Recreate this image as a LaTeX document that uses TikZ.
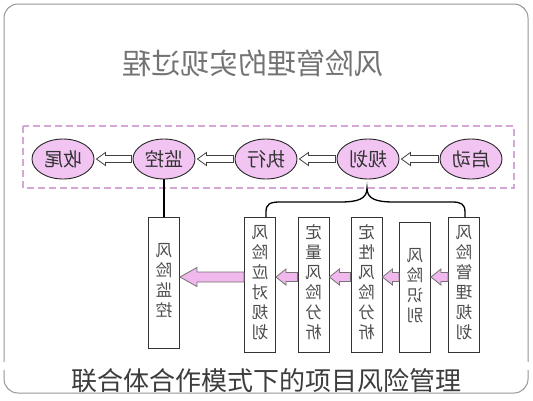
\documentclass[tikz,border=0pt]{standalone}
\usepackage{fontspec}
\newfontfamily\cjk{Noto Sans CJK SC}
\usetikzlibrary{calc,shapes.geometric}
\definecolor{ellfill}{RGB}{242,196,242}
\definecolor{pinkarrow}{RGB}{240,184,236}
\definecolor{dashpink}{RGB}{214,166,214}
\definecolor{framegray}{RGB}{150,150,150}
\definecolor{titlegray}{RGB}{115,115,115}
\definecolor{capgray}{RGB}{60,60,60}
\tikzset{
  phase/.style={ellipse, draw=black!85, line width=0.9pt, fill=ellfill,
    minimum width=62pt, minimum height=40pt, inner sep=0pt,
    font=\cjk\fontsize{19}{19}\selectfont, text=black!80},
  procbox/.style={draw=black!80, line width=0.9pt, fill=white,
    minimum width=31pt, inner sep=0pt,
    font=\cjk\fontsize{16.5}{20}\selectfont, text=black!70},
  hollowarrow/.style={draw=black!75, line width=0.8pt, fill=white},
  pinkblock/.style={draw=black!55, line width=0.8pt, fill=pinkarrow},
  bracestyle/.style={draw=black, line width=1.3pt},
  dashframe/.style={draw=dashpink, line width=1.6pt, dash pattern=on 7pt off 4pt},
}
\newcommand\blockarr[6]{%
  \path[#6] let \p1=#1, \p2=#2 in
    (\x1,{\y1+#3}) -- ({\x2+#5},{\y1+#3}) -- ({\x2+#5},{\y1+#4}) -- (\x2,\y1)
    -- ({\x2+#5},{\y1-#4}) -- ({\x2+#5},{\y1-#3}) -- (\x1,{\y1-#3}) -- cycle;}
\newcommand\vstack[1]{\reflectbox{\begin{tabular}{@{}c@{}}#1\end{tabular}}}
\begin{document}
\begin{tikzpicture}[x=1pt,y=-1pt]
\useasboundingbox (0,0) rectangle (533,400);
\fill[white] (0,0) rectangle (533,400);
% outer frame
\draw[framegray, line width=1pt, rounded corners=14pt] (4,4) rectangle (528,393);
\fill[white] (0,362) rectangle (533,369.5);
% title (mirrored)
\node[font=\cjk\fontsize{29}{29}\selectfont, text=titlegray] (title) at (253,63) {\reflectbox{风险管理的实现过程}};
% dashed group
\draw[dashframe] (23,126) rectangle (514,188);
% phases
\node[phase] (e5) at (63,159) {\reflectbox{收尾}};
\node[phase] (e4) at (164,159) {\reflectbox{监控}};
\node[phase] (e3) at (266,159) {\reflectbox{执行}};
\node[phase] (e2) at (368,159) {\reflectbox{规划}};
\node[phase] (e1) at (471,159) {\reflectbox{启动}};
\blockarr{($(e1.west)+(-1,0)$)}{($(e2.east)+(2,0)$)}{3.5pt}{6.5pt}{9pt}{hollowarrow}
\blockarr{($(e2.west)+(-1,0)$)}{($(e3.east)+(2,0)$)}{3.5pt}{6.5pt}{9pt}{hollowarrow}
\blockarr{($(e3.west)+(-1,0)$)}{($(e4.east)+(2,0)$)}{3.5pt}{6.5pt}{9pt}{hollowarrow}
\blockarr{($(e4.west)+(-1,0)$)}{($(e5.east)+(2,0)$)}{3.5pt}{6.5pt}{9pt}{hollowarrow}
% process boxes
\node[procbox, minimum height=131pt] (m) at (164,282.5) {\vstack{风\\险\\监\\控}};
\node[procbox, minimum height=135pt] (b5) at (260,284.5) {\vstack{风\\险\\应\\对\\规\\划}};
\node[procbox, minimum height=135pt] (b4) at (313.5,284.5) {\vstack{定\\量\\风\\险\\分\\析}};
\node[procbox, minimum height=135pt] (b3) at (366.5,284.5) {\vstack{定\\性\\风\\险\\分\\析}};
\node[procbox, minimum height=130pt] (b2) at (415,287) {\vstack{风\\险\\识\\别}};
\node[procbox, minimum height=135pt] (b1) at (464,284.5) {\vstack{风\\险\\管\\理\\规\\划}};
\coordinate (ay) at (0,277);
\blockarr{(b1.west |- ay)}{(b2.east |- ay)}{4.5pt}{8pt}{10pt}{pinkblock}
\blockarr{(b2.west |- ay)}{(b3.east |- ay)}{4.5pt}{8pt}{10pt}{pinkblock}
\blockarr{(b3.west |- ay)}{(b4.east |- ay)}{4.5pt}{8pt}{10pt}{pinkblock}
\blockarr{(b4.west |- ay)}{(b5.east |- ay)}{4.5pt}{8pt}{10pt}{pinkblock}
\blockarr{(b5.west |- ay)}{(m.east |- ay)}{5pt}{9.5pt}{17pt}{pinkblock}
% link monitor
\draw[line width=1.2pt] (e4.south) -- (m.north);
% brace
\coordinate (brL) at (266,217);
\coordinate (brT) at (367,188);
\coordinate (brR) at (465,217);
\draw[bracestyle] (brL) -- (266,212) .. controls (266,204) and (270,202) .. (280,202)
  -- (340,202) .. controls (358,202) and (367,199) .. (brT)
  .. controls (367,199) and (376,202) .. (394,202) -- (452,202)
  .. controls (461,202) and (465,204) .. (465,212) -- (brR);
% caption
\node[font=\cjk\fontsize{26}{26}\selectfont, text=capgray] (cap) at (266,381) {联合体合作模式下的项目风险管理};
\end{tikzpicture}
\end{document}
